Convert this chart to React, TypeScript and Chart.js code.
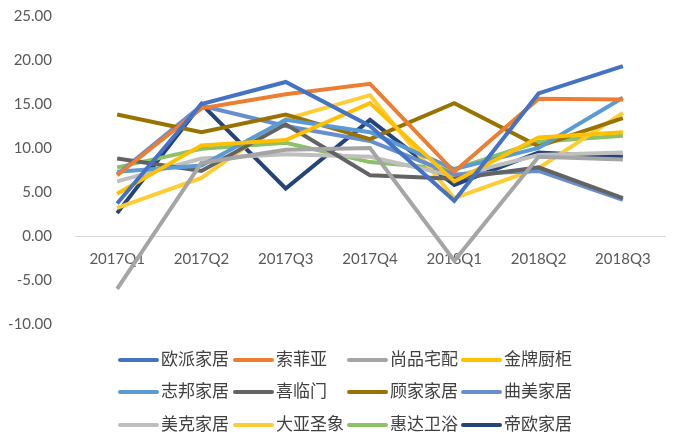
import React, { useEffect, useRef } from "react";
import { Chart, registerables } from "chart.js";

Chart.register(...registerables);

const categories = ["2017Q1", "2017Q2", "2017Q3", "2017Q4", "2018Q1", "2018Q2", "2018Q3"];

const seriesNames = [
  "欧派家居", "索菲亚", "尚品宅配", "金牌厨柜",
  "志邦家居", "喜临门", "顾家家居", "曲美家居",
  "美克家居", "大亚圣象", "惠达卫浴", "帝欧家居",
];

const seriesColors = [
  "#4472C4", "#ED7D31", "#A5A5A5", "#FFC000",
  "#5B9BD5", "#636363", "#997300", "#698ED0",
  "#BFBFBF", "#FFCD33", "#8CC168", "#264478",
];

const oupai = [3.7, 15.0, 17.5, 12.5, 4.0, 16.2, 19.3];
const sofia = [6.9, 14.5, 16.1, 17.3, 7.3, 15.6, 15.5];
const shangpin = [-6.0, 8.3, 9.8, 10.0, -2.8, 9.0, 8.7];
const jinpai = [4.8, 10.3, 10.9, 15.1, 6.2, 11.2, 11.8];
const zhibang = [7.3, 8.0, 13.2, 11.8, 7.6, 10.0, 15.7];
const xilinmen = [8.8, 7.4, 12.7, 6.9, 6.5, 7.8, 4.3];
const gujia = [13.8, 11.8, 13.8, 11.0, 15.1, 10.2, 13.4];
const qumei = [7.0, 14.8, 12.5, 10.8, 7.0, 7.4, 4.1];
const meike = [6.2, 8.8, 9.3, 9.0, 6.8, 9.2, 9.5];
const daya = [3.2, 6.6, 13.3, 16.0, 4.3, 7.7, 14.0];
const huida = [7.8, 9.9, 10.6, 8.4, 7.6, 10.7, 11.4];
const diou = [2.6, 15.0, 5.4, 13.2, 5.8, 9.5, 9.0];

const seriesValues = [
  oupai, sofia, shangpin, jinpai,
  zhibang, xilinmen, gujia, qumei,
  meike, daya, huida, diou,
];

const yTicks = { min: -10, max: 25, step: 5 };

const legendPlugin = {
  id: "gridLegend",
  afterDraw(chart: any) {
    const ctx = chart.ctx;
    const colX = [120, 235, 349, 463];
    const rowY = [360, 392, 425];
    ctx.save();
    ctx.font = '17px "Noto Sans CJK SC", sans-serif';
    ctx.textBaseline = "middle";
    ctx.textAlign = "left";
    chart.data.datasets.forEach((ds: any, i: number) => {
      const c = i % 4;
      const r = Math.floor(i / 4);
      const x = colX[c];
      const y = rowY[r];
      ctx.strokeStyle = ds.borderColor;
      ctx.lineWidth = 4;
      ctx.lineCap = "round";
      ctx.beginPath();
      ctx.moveTo(x, y);
      ctx.lineTo(x + 37, y);
      ctx.stroke();
      ctx.fillStyle = "#404040";
      ctx.fillText(ds.label, x + 41, y - 1);
    });
    ctx.restore();
  },
};

export default function App() {
  const ref = useRef<HTMLCanvasElement | null>(null);
  useEffect(() => {
    if (!ref.current) return;
    const chart = new Chart(ref.current, {
      type: "line",
      data: {
        labels: categories,
        datasets: seriesNames.map((name, i) => ({
          label: name,
          data: seriesValues[i],
          borderColor: seriesColors[i],
          backgroundColor: seriesColors[i],
          borderWidth: 4,
          pointRadius: 0,
          tension: 0,
          fill: false,
        })),
      },
      options: {
        animation: false,
        responsive: false,
        maintainAspectRatio: false,
        layout: { padding: { top: 16, right: 11, bottom: 109, left: 0 } },
        plugins: {
          legend: { display: false },
          tooltip: { enabled: false },
        },
        scales: {
          x: {
            type: "category",
            position: { y: 0 } as any,
            offset: true,
            grid: { display: false },
            border: { display: true, color: "#D9D9D9", width: 1 },
            ticks: {
              color: "#595959",
              font: { family: "Lato", size: 15 },
              padding: 6,
              maxRotation: 0,
            },
          },
          y: {
            min: yTicks.min,
            max: yTicks.max,
            grid: { display: false },
            border: { display: false },
            afterFit: (scale: any) => {
              scale.width = 75;
              scale.paddingTop = 0;
              scale.paddingBottom = 0;
            },
            ticks: {
              stepSize: yTicks.step,
              color: "#595959",
              font: { family: "Lato", size: 15 },
              padding: 15,
              callback: (v: any) => Number(v).toFixed(2),
            },
          },
        },
      },
      plugins: [legendPlugin],
    });
    return () => chart.destroy();
  }, []);
  return (
    <div style={{ position: "fixed", left: 0, top: 0, width: 676, height: 433, background: "#fff" }}>
      <canvas ref={ref} width={676} height={433} style={{ width: 676, height: 433 }} />
    </div>
  );
}
